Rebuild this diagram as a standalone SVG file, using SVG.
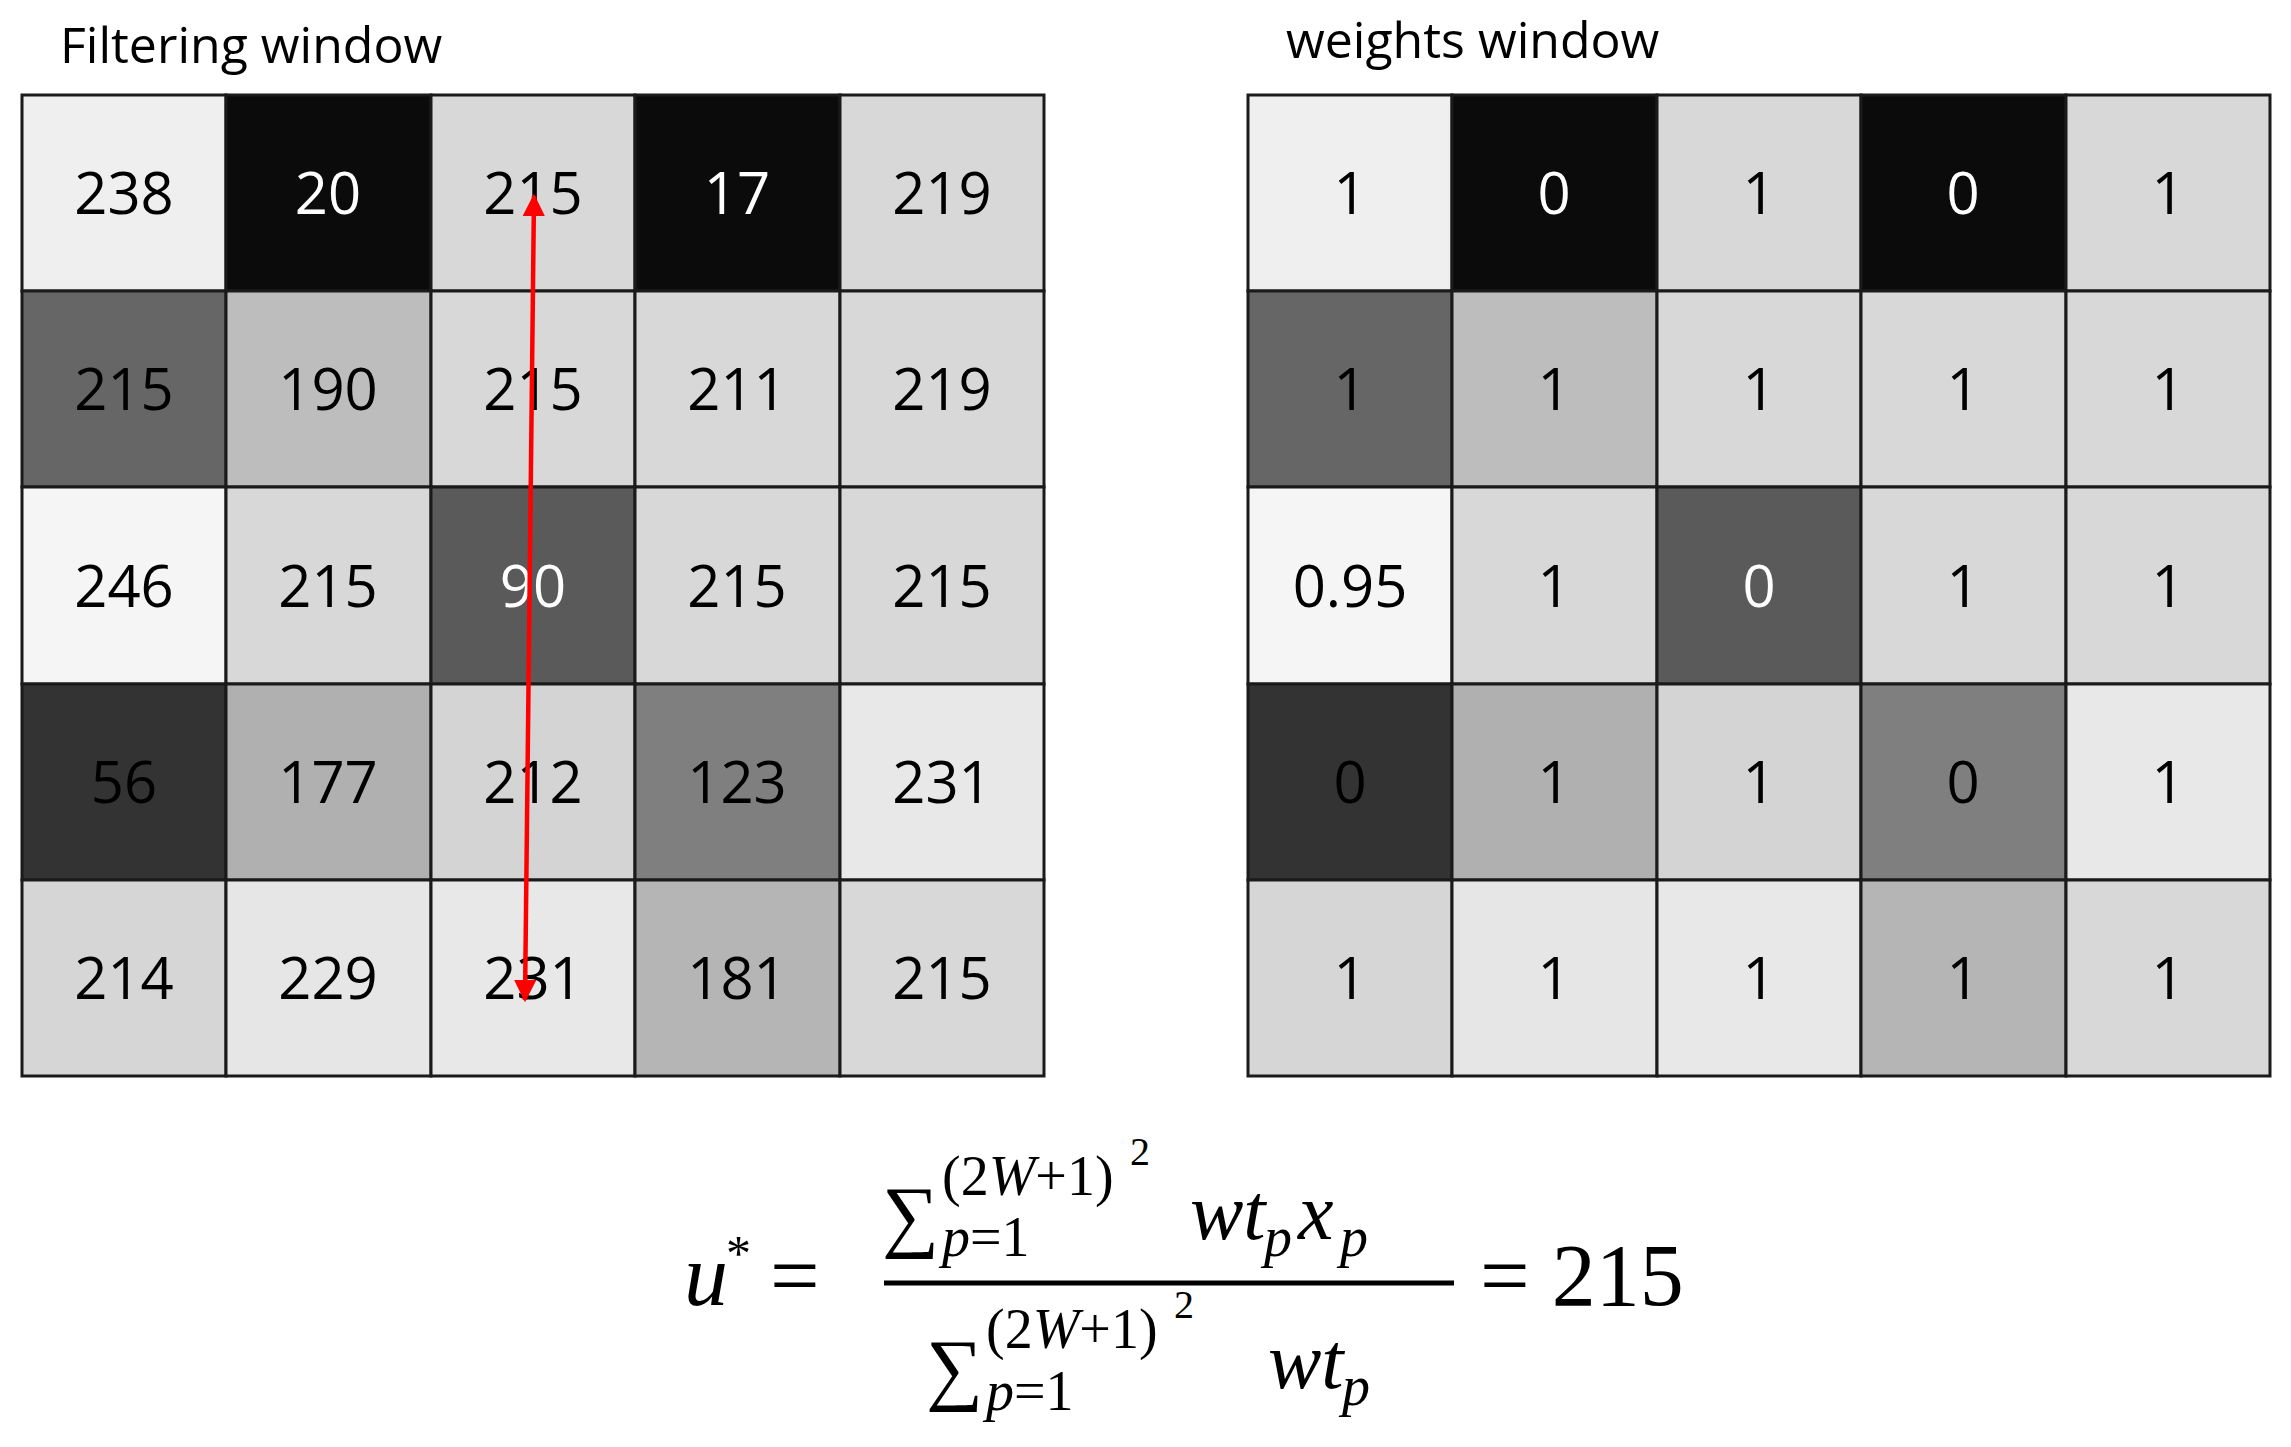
<svg xmlns="http://www.w3.org/2000/svg" width="2291" height="1447" viewBox="0 0 2291 1447">
<defs>
<style>
.c{stroke:#1a1a1a;stroke-width:3}
.n{font-family:"Open Sans","Liberation Sans",sans-serif;font-size:58px;text-anchor:middle;fill:#000}
.w{fill:#fff}
.t{font-family:"Open Sans","Liberation Sans",sans-serif;font-size:50px;fill:#000}
.m{font-family:"Liberation Serif",serif;fill:#000}
.i{font-style:italic}
</style>
<marker id="ah" viewBox="0 0 10 10" refX="9" refY="5" markerWidth="5" markerHeight="5" orient="auto-start-reverse"><path d="M0,0 L10,5 L0,10 z" fill="#ff0000"/></marker>
</defs>
<rect width="2291" height="1447" fill="#fff"/>
<text class="t" x="60" y="63">Filtering window</text>
<text class="t" x="1286" y="58">weights window</text>
<g id="filtering-window">
<rect class="c" x="22" y="95" width="204" height="196" fill="#efefef"/><text class="n" x="124" y="214">238</text>
<rect class="c" x="226" y="95" width="205" height="196" fill="#0b0b0b"/><text class="n w" x="328" y="214">20</text>
<rect class="c" x="431" y="95" width="204" height="196" fill="#d8d8d8"/><text class="n" x="533" y="214">215</text>
<rect class="c" x="635" y="95" width="205" height="196" fill="#0b0b0b"/><text class="n w" x="737" y="214">17</text>
<rect class="c" x="840" y="95" width="204" height="196" fill="#d8d8d8"/><text class="n" x="942" y="214">219</text>
<rect class="c" x="22" y="291" width="204" height="196" fill="#666"/><text class="n" x="124" y="410">215</text>
<rect class="c" x="226" y="291" width="205" height="196" fill="#bdbdbd"/><text class="n" x="328" y="410">190</text>
<rect class="c" x="431" y="291" width="204" height="196" fill="#d8d8d8"/><text class="n" x="533" y="410">215</text>
<rect class="c" x="635" y="291" width="205" height="196" fill="#d8d8d8"/><text class="n" x="737" y="410">211</text>
<rect class="c" x="840" y="291" width="204" height="196" fill="#d8d8d8"/><text class="n" x="942" y="410">219</text>
<rect class="c" x="22" y="487" width="204" height="197" fill="#f5f5f5"/><text class="n" x="124" y="607">246</text>
<rect class="c" x="226" y="487" width="205" height="197" fill="#d8d8d8"/><text class="n" x="328" y="607">215</text>
<rect class="c" x="431" y="487" width="204" height="197" fill="#5a5a5a"/><text class="n w" x="533" y="607">90</text>
<rect class="c" x="635" y="487" width="205" height="197" fill="#d8d8d8"/><text class="n" x="737" y="607">215</text>
<rect class="c" x="840" y="487" width="204" height="197" fill="#d8d8d8"/><text class="n" x="942" y="607">215</text>
<rect class="c" x="22" y="684" width="204" height="196" fill="#333"/><text class="n" x="124" y="803">56</text>
<rect class="c" x="226" y="684" width="205" height="196" fill="#b0b0b0"/><text class="n" x="328" y="803">177</text>
<rect class="c" x="431" y="684" width="204" height="196" fill="#d4d4d4"/><text class="n" x="533" y="803">212</text>
<rect class="c" x="635" y="684" width="205" height="196" fill="#7f7f7f"/><text class="n" x="737" y="803">123</text>
<rect class="c" x="840" y="684" width="204" height="196" fill="#e8e8e8"/><text class="n" x="942" y="803">231</text>
<rect class="c" x="22" y="880" width="204" height="196" fill="#d6d6d6"/><text class="n" x="124" y="999">214</text>
<rect class="c" x="226" y="880" width="205" height="196" fill="#e6e6e6"/><text class="n" x="328" y="999">229</text>
<rect class="c" x="431" y="880" width="204" height="196" fill="#e8e8e8"/><text class="n" x="533" y="999">231</text>
<rect class="c" x="635" y="880" width="205" height="196" fill="#b5b5b5"/><text class="n" x="737" y="999">181</text>
<rect class="c" x="840" y="880" width="204" height="196" fill="#d8d8d8"/><text class="n" x="942" y="999">215</text>
</g>
<g id="weights-window">
<rect class="c" x="1248" y="95" width="204" height="196" fill="#efefef"/><text class="n" x="1350" y="214">1</text>
<rect class="c" x="1452" y="95" width="205" height="196" fill="#0b0b0b"/><text class="n w" x="1554" y="214">0</text>
<rect class="c" x="1657" y="95" width="204" height="196" fill="#d8d8d8"/><text class="n" x="1759" y="214">1</text>
<rect class="c" x="1861" y="95" width="205" height="196" fill="#0b0b0b"/><text class="n w" x="1963" y="214">0</text>
<rect class="c" x="2066" y="95" width="204" height="196" fill="#d8d8d8"/><text class="n" x="2168" y="214">1</text>
<rect class="c" x="1248" y="291" width="204" height="196" fill="#666"/><text class="n" x="1350" y="410">1</text>
<rect class="c" x="1452" y="291" width="205" height="196" fill="#bdbdbd"/><text class="n" x="1554" y="410">1</text>
<rect class="c" x="1657" y="291" width="204" height="196" fill="#d8d8d8"/><text class="n" x="1759" y="410">1</text>
<rect class="c" x="1861" y="291" width="205" height="196" fill="#d8d8d8"/><text class="n" x="1963" y="410">1</text>
<rect class="c" x="2066" y="291" width="204" height="196" fill="#d8d8d8"/><text class="n" x="2168" y="410">1</text>
<rect class="c" x="1248" y="487" width="204" height="197" fill="#f5f5f5"/><text class="n" x="1350" y="607">0.95</text>
<rect class="c" x="1452" y="487" width="205" height="197" fill="#d8d8d8"/><text class="n" x="1554" y="607">1</text>
<rect class="c" x="1657" y="487" width="204" height="197" fill="#5a5a5a"/><text class="n w" x="1759" y="607">0</text>
<rect class="c" x="1861" y="487" width="205" height="197" fill="#d8d8d8"/><text class="n" x="1963" y="607">1</text>
<rect class="c" x="2066" y="487" width="204" height="197" fill="#d8d8d8"/><text class="n" x="2168" y="607">1</text>
<rect class="c" x="1248" y="684" width="204" height="196" fill="#333"/><text class="n" x="1350" y="803">0</text>
<rect class="c" x="1452" y="684" width="205" height="196" fill="#b0b0b0"/><text class="n" x="1554" y="803">1</text>
<rect class="c" x="1657" y="684" width="204" height="196" fill="#d4d4d4"/><text class="n" x="1759" y="803">1</text>
<rect class="c" x="1861" y="684" width="205" height="196" fill="#7f7f7f"/><text class="n" x="1963" y="803">0</text>
<rect class="c" x="2066" y="684" width="204" height="196" fill="#e8e8e8"/><text class="n" x="2168" y="803">1</text>
<rect class="c" x="1248" y="880" width="204" height="196" fill="#d6d6d6"/><text class="n" x="1350" y="999">1</text>
<rect class="c" x="1452" y="880" width="205" height="196" fill="#e6e6e6"/><text class="n" x="1554" y="999">1</text>
<rect class="c" x="1657" y="880" width="204" height="196" fill="#e8e8e8"/><text class="n" x="1759" y="999">1</text>
<rect class="c" x="1861" y="880" width="205" height="196" fill="#b5b5b5"/><text class="n" x="1963" y="999">1</text>
<rect class="c" x="2066" y="880" width="204" height="196" fill="#d8d8d8"/><text class="n" x="2168" y="999">1</text>
</g>
<g id="connectors">
<line x1="534" y1="196" x2="525" y2="1000" stroke="#ff0000" stroke-width="4.5" marker-start="url(#ah)" marker-end="url(#ah)"/>
</g>
<g id="formula">
<text class="m i" x="684" y="1305" font-size="88">u</text>
<text class="m" x="726" y="1270" font-size="50">*</text>
<text class="m" x="770" y="1305" font-size="88">=</text>
<text class="m" x="882" y="1242" font-size="80">∑</text>
<text class="m" x="942" y="1195" font-size="56">(2<tspan class="i">W</tspan>+1)</text>
<text class="m" x="1130" y="1165" font-size="40">2</text>
<text class="m" x="942" y="1256" font-size="56"><tspan class="i">p</tspan>=1</text>
<text class="m i" x="1190" y="1239" font-size="80">wt</text>
<text class="m i" x="1264" y="1256" font-size="56">p</text>
<text class="m i" x="1298" y="1239" font-size="80">x</text>
<text class="m i" x="1340" y="1256" font-size="56">p</text>
<line x1="884" y1="1283" x2="1454" y2="1283" stroke="#000" stroke-width="5"/>
<text class="m" x="926" y="1395" font-size="80">∑</text>
<text class="m" x="986" y="1348" font-size="56">(2<tspan class="i">W</tspan>+1)</text>
<text class="m" x="1174" y="1318" font-size="40">2</text>
<text class="m" x="986" y="1410" font-size="56"><tspan class="i">p</tspan>=1</text>
<text class="m i" x="1268" y="1388" font-size="80">wt</text>
<text class="m i" x="1342" y="1405" font-size="56">p</text>
<text class="m" x="1480" y="1305" font-size="88">= 215</text>
</g>
</svg>
